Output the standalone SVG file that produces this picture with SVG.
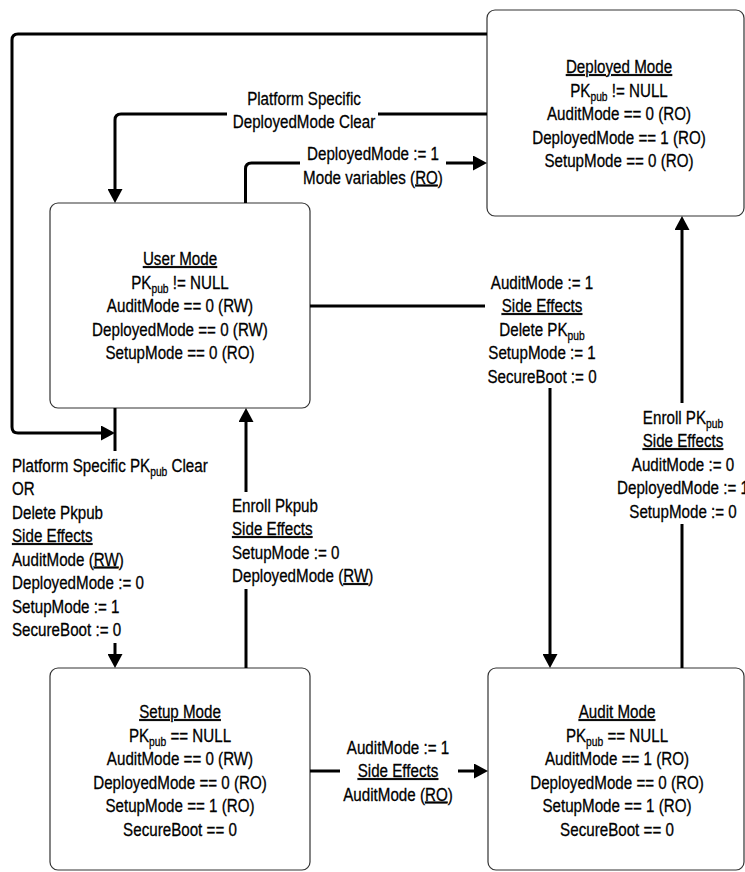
<svg xmlns="http://www.w3.org/2000/svg" width="745" height="872" viewBox="0 0 745 872">
<defs>
<marker id="ah" markerUnits="userSpaceOnUse" markerWidth="14" markerHeight="15" refX="10" refY="7.5" orient="auto">
<path d="M0,0 L14,7.5 L0,15 Z" fill="#000"/>
</marker>
<style>
.box{fill:#fff;stroke:#333;stroke-width:1.2}
.t{font-family:"Liberation Sans",Arial,sans-serif;font-size:18.5px;fill:#000;stroke:#000;stroke-width:0.3}
.c{text-anchor:middle}
.u{text-decoration:underline}
.s{font-size:12.5px}
.ln{fill:none;stroke:#000;stroke-width:3}
</style>
</defs>
<rect width="745" height="872" fill="#fff"/>

<g id="deployed-mode">
<rect class="box" x="487" y="10" width="257" height="206" rx="8"/>
<text class="t c" transform="matrix(.82,0,0,1,619,73)"><tspan class="u">Deployed Mode</tspan></text>
<text class="t c" transform="matrix(.82,0,0,1,619,96.5)">PK<tspan class="s" dy="4">pub</tspan><tspan dy="-4"> != NULL</tspan></text>
<text class="t c" transform="matrix(.82,0,0,1,619,120)">AuditMode == 0 (RO)</text>
<text class="t c" transform="matrix(.82,0,0,1,619,143.5)">DeployedMode == 1 (RO)</text>
<text class="t c" transform="matrix(.82,0,0,1,619,167)">SetupMode == 0 (RO)</text>
</g>

<g id="user-mode">
<rect class="box" x="50" y="203" width="260" height="205" rx="8"/>
<text class="t c" transform="matrix(.82,0,0,1,180,265)"><tspan class="u">User Mode</tspan></text>
<text class="t c" transform="matrix(.82,0,0,1,180,288.5)">PK<tspan class="s" dy="4">pub</tspan><tspan dy="-4"> != NULL</tspan></text>
<text class="t c" transform="matrix(.82,0,0,1,180,312)">AuditMode == 0 (RW)</text>
<text class="t c" transform="matrix(.82,0,0,1,180,335.5)">DeployedMode == 0 (RW)</text>
<text class="t c" transform="matrix(.82,0,0,1,180,359)">SetupMode == 0 (RO)</text>
</g>

<g id="setup-mode">
<rect class="box" x="50" y="668" width="260" height="202" rx="8"/>
<text class="t c" transform="matrix(.82,0,0,1,180,718)"><tspan class="u">Setup Mode</tspan></text>
<text class="t c" transform="matrix(.82,0,0,1,180,741.5)">PK<tspan class="s" dy="4">pub</tspan><tspan dy="-4"> == NULL</tspan></text>
<text class="t c" transform="matrix(.82,0,0,1,180,765)">AuditMode == 0 (RW)</text>
<text class="t c" transform="matrix(.82,0,0,1,180,788.5)">DeployedMode == 0 (RO)</text>
<text class="t c" transform="matrix(.82,0,0,1,180,812)">SetupMode == 1 (RO)</text>
<text class="t c" transform="matrix(.82,0,0,1,180,835.5)">SecureBoot == 0</text>
</g>

<g id="audit-mode">
<rect class="box" x="488" y="668" width="256" height="202" rx="8"/>
<text class="t c" transform="matrix(.82,0,0,1,617,718)"><tspan class="u">Audit Mode</tspan></text>
<text class="t c" transform="matrix(.82,0,0,1,617,741.5)">PK<tspan class="s" dy="4">pub</tspan><tspan dy="-4"> == NULL</tspan></text>
<text class="t c" transform="matrix(.82,0,0,1,617,765)">AuditMode == 1 (RO)</text>
<text class="t c" transform="matrix(.82,0,0,1,617,788.5)">DeployedMode == 0 (RO)</text>
<text class="t c" transform="matrix(.82,0,0,1,617,812)">SetupMode == 1 (RO)</text>
<text class="t c" transform="matrix(.82,0,0,1,617,835.5)">SecureBoot == 0</text>
</g>

<g id="connectors">
<path class="ln" d="M487,34 H18 Q12,34 12,40 V427 Q12,433 18,433 H111" marker-end="url(#ah)"/>
<path class="ln" d="M115,408 V451"/>
<path class="ln" d="M115,643 V664" marker-end="url(#ah)"/>
<path class="ln" d="M487,114 H378"/>
<path class="ln" d="M227,114 H121 Q115,114 115,120 V199" marker-end="url(#ah)"/>
<path class="ln" d="M245.5,203 V169 Q245.5,163 251.5,163 H300"/>
<path class="ln" d="M446,163 H483" marker-end="url(#ah)"/>
<path class="ln" d="M246,668 V589"/>
<path class="ln" d="M246,492 V412" marker-end="url(#ah)"/>
<path class="ln" d="M310,306 H485"/>
<path class="ln" d="M550,388 V664" marker-end="url(#ah)"/>
<path class="ln" d="M682,668 V524"/>
<path class="ln" d="M682,403 V220" marker-end="url(#ah)"/>
<path class="ln" d="M310,771 H340"/>
<path class="ln" d="M458,771 H484" marker-end="url(#ah)"/>

<g id="label-deployed-clear">
<text class="t c" transform="matrix(.82,0,0,1,304,104.5)">Platform Specific</text>
<text class="t c" transform="matrix(.82,0,0,1,304,128)">DeployedMode Clear</text>
</g>
<g id="label-deploy">
<text class="t c" transform="matrix(.82,0,0,1,373,159.5)">DeployedMode := 1</text>
<text class="t c" transform="matrix(.82,0,0,1,373,183.5)">Mode variables (<tspan class="u">RO</tspan>)</text>
</g>
<g id="label-user-audit">
<text class="t c" transform="matrix(.82,0,0,1,542,288.5)">AuditMode := 1</text>
<text class="t c" transform="matrix(.82,0,0,1,542,312)"><tspan class="u">Side Effects</tspan></text>
<text class="t c" transform="matrix(.82,0,0,1,542,335.5)">Delete PK<tspan class="s" dy="4">pub</tspan></text>
<text class="t c" transform="matrix(.82,0,0,1,542,359)">SetupMode := 1</text>
<text class="t c" transform="matrix(.82,0,0,1,542,382.5)">SecureBoot := 0</text>
</g>
<g id="label-audit-deployed">
<text class="t c" transform="matrix(.82,0,0,1,683,423.5)">Enroll PK<tspan class="s" dy="4">pub</tspan></text>
<text class="t c" transform="matrix(.82,0,0,1,683,447)"><tspan class="u">Side Effects</tspan></text>
<text class="t c" transform="matrix(.82,0,0,1,683,470.5)">AuditMode := 0</text>
<text class="t c" transform="matrix(.82,0,0,1,683,494)">DeployedMode := 1</text>
<text class="t c" transform="matrix(.82,0,0,1,683,517.5)">SetupMode := 0</text>
</g>
<g id="label-user-setup">
<text class="t" transform="matrix(.82,0,0,1,12,471.5)">Platform Specific PK<tspan class="s" dy="4">pub</tspan><tspan dy="-4"> Clear</tspan></text>
<text class="t" transform="matrix(.82,0,0,1,12,495)">OR</text>
<text class="t" transform="matrix(.82,0,0,1,12,518.5)">Delete Pkpub</text>
<text class="t" transform="matrix(.82,0,0,1,12,542)"><tspan class="u">Side Effects</tspan></text>
<text class="t" transform="matrix(.82,0,0,1,12,565.5)">AuditMode (<tspan class="u">RW</tspan>)</text>
<text class="t" transform="matrix(.82,0,0,1,12,589)">DeployedMode := 0</text>
<text class="t" transform="matrix(.82,0,0,1,12,612.5)">SetupMode := 1</text>
<text class="t" transform="matrix(.82,0,0,1,12,636)">SecureBoot := 0</text>
</g>
<g id="label-setup-user">
<text class="t" transform="matrix(.82,0,0,1,232,511.5)">Enroll Pkpub</text>
<text class="t" transform="matrix(.82,0,0,1,232,535)"><tspan class="u">Side Effects</tspan></text>
<text class="t" transform="matrix(.82,0,0,1,232,558.5)">SetupMode := 0</text>
<text class="t" transform="matrix(.82,0,0,1,232,582)">DeployedMode (<tspan class="u">RW</tspan>)</text>
</g>
<g id="label-setup-audit">
<text class="t c" transform="matrix(.82,0,0,1,398,753.5)">AuditMode := 1</text>
<text class="t c" transform="matrix(.82,0,0,1,398,777)"><tspan class="u">Side Effects</tspan></text>
<text class="t c" transform="matrix(.82,0,0,1,398,800.5)">AuditMode (<tspan class="u">RO</tspan>)</text>
</g>
</g>
</svg>
